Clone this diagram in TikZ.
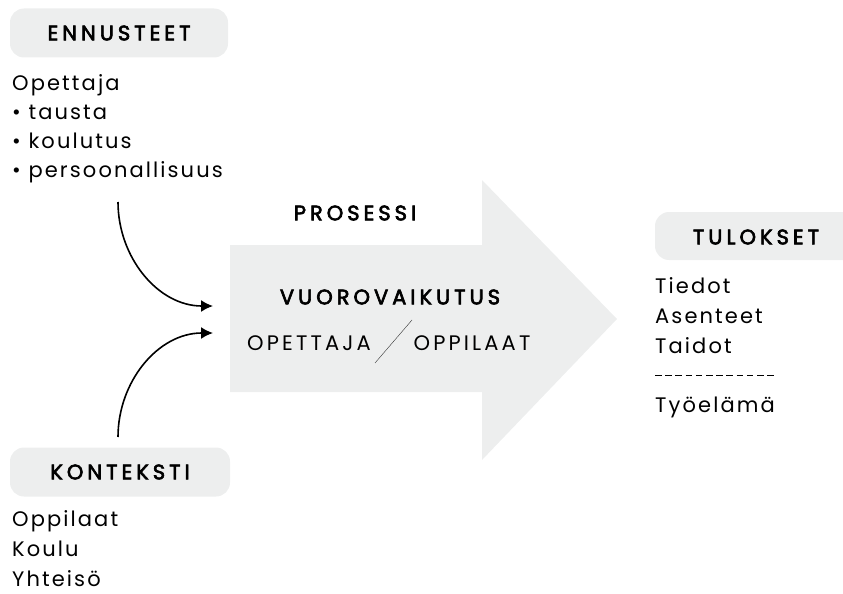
\documentclass[tikz,border=0pt]{standalone}
\usepackage{fontspec}
\setmainfont{Poppins}
\newfontfamily\bodyfont[LetterSpace=10]{Poppins}
\newfontfamily\capsfont[LetterSpace=15]{Poppins}
\newfontfamily\headfont[LetterSpace=19, FakeBold=3]{Poppins}
\usepackage{tikz}
\usetikzlibrary{positioning,arrows.meta,calc}
\definecolor{boxgray}{HTML}{EDEEEE}

\begin{document}
\begin{tikzpicture}[x=1pt, y=-1pt,
    headbox/.style={fill=boxgray, rounded corners=14pt, minimum height=49pt, font=\headfont\fontsize{21}{23}\selectfont},
    bodytxt/.style={anchor=north west, inner sep=0pt, align=left, font=\bodyfont\fontsize{21}{29}\selectfont},
    flow/.style={-{Latex[length=12pt,width=12pt]}, line width=1.6pt, black}]
      \useasboundingbox (0,0) rectangle (843,594);
      % big process arrow
      \fill[boxgray] (230,245) -- (482,245) -- (482,180) -- (617,319) -- (482,460) -- (482,392) -- (230,392) -- cycle;
      \node (prosessi) at (355,213) {\headfont\fontsize{21}{23}\selectfont PROSESSI};
      \node (vuoro) at (390,297) {\headfont\fontsize{21}{23}\selectfont VUOROVAIKUTUS};
      \node (opettaja) at (309,343) {\capsfont\fontsize{21}{23}\selectfont OPETTAJA};
      \node (oppilaat) at (472,343) {\capsfont\fontsize{21}{23}\selectfont OPPILAAT};
      \draw[thin, black!80] (412,320) -- (375,363);
      % ennusteet
      \node[headbox, minimum width=218pt] (ennusteet) at (119,33) {ENNUSTEET};
      \node[bodytxt] (opelist) at (12,74) {Opettaja\\\textbullet\ tausta\\\textbullet\ koulutus\\\textbullet\ persoonallisuus};
      % konteksti
      \node[headbox, minimum width=220pt] (konteksti) at (120,472) {KONTEKSTI};
      \node[bodytxt, font=\bodyfont\fontsize{21}{30}\selectfont] (kontlist) at (12,510) {Oppilaat\\Koulu\\Yhteisö};
      % tulokset
      \fill[boxgray, rounded corners=14pt] (843,212) -- (655,212) -- (655,260) -- (843,260);
      \fill[boxgray] (820,212) rectangle (843,260);
      \node[font=\headfont\fontsize{21}{23}\selectfont] (tulokset) at (756,237) {TULOKSET};
      \node[bodytxt, font=\bodyfont\fontsize{21}{30}\selectfont] (tulolist) at (655,277) {Tiedot\\Asenteet\\Taidot};
      \coordinate (dashL) at (655,375);
      \coordinate (dashR) at (777,375);
      \draw[dash pattern=on 6.5pt off 3.7pt] (dashL) -- (dashR);
      \node[bodytxt] (tyoelama) at (655,397) {Työelämä};
      % inputs
      \coordinate (outA) at (118,202);
      \coordinate (outB) at (118,437);
      \coordinate (inA) at (213,306);
      \coordinate (inB) at (213,333);
      \draw[flow] (outA) to[out=-90, in=180] (inA);
      \draw[flow] (outB) to[out=90, in=180] (inB);
    \end{tikzpicture}
\end{document}
